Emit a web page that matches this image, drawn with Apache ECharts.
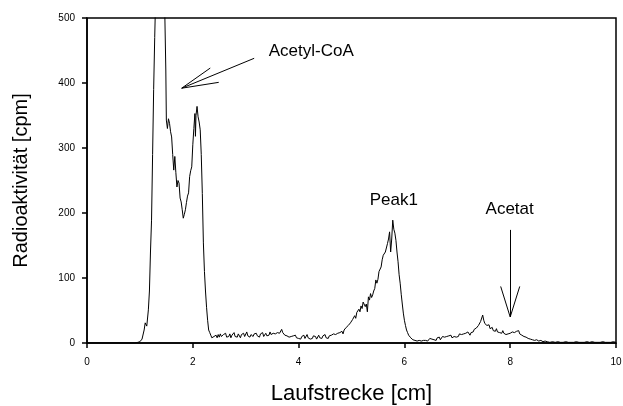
<!DOCTYPE html>
<html>
<head>
<meta charset="utf-8">
<script src="https://cdn.jsdelivr.net/npm/echarts@6/dist/echarts.min.js"></script>
<style>
html,body{margin:0;padding:0;background:#fff;}
#chart{width:623px;height:406px;}
</style>
</head>
<body>
<div id="chart"></div>
<script>
// ---- data: [Laufstrecke cm, Radioaktivität cpm] ----
const baseline = [[0,0],[0.25,0],[0.27,2],[0.29,0],[0.9,0],[0.96,1],[1.0,2],[1.04,6],[1.08,20],[1.1,31],[1.13,26],[1.16,51]];
const acetylCoA = [[1.18,80],[1.2,140],[1.22,189],[1.24,290],[1.26,390],[1.28,470],[1.3,540],[1.33,600],[1.36,630],[1.39,625],[1.42,600],[1.45,560],[1.47,510],[1.49,420],[1.5,343],[1.52,330],[1.54,345],[1.56,338],[1.58,325],[1.6,317],[1.62,290],[1.64,266],[1.66,287],[1.68,262],[1.7,240],[1.72,250],[1.74,246],[1.76,223],[1.78,217],[1.8,205],[1.82,192],[1.84,198],[1.86,205],[1.88,216],[1.9,226],[1.92,231],[1.94,256],[1.96,265],[1.98,271],[2.0,305],[2.02,330],[2.04,353],[2.05,318],[2.06,350],[2.08,364],[2.1,348],[2.12,340],[2.14,328],[2.16,290],[2.18,230],[2.2,154],[2.22,110],[2.24,80],[2.26,55],[2.28,35],[2.3,20],[2.32,16],[2.34,12],[2.36,8]];
const plateau = [[2.38,6],[2.4,10],[2.42,7],[2.44,12],[2.46,8],[2.48,13],[2.5,9],[2.52,14],[2.54,10],[2.56,8],[2.58,13],[2.6,11],[2.62,15],[2.64,9],[2.66,12],[2.68,10],[2.7,14],[2.72,8],[2.74,12],[2.76,11],[2.78,16],[2.8,10],[2.82,13],[2.84,9],[2.86,14],[2.88,12],[2.9,8],[2.92,13],[2.94,11],[2.96,15],[2.98,10],[3.0,12],[3.02,17],[3.04,11],[3.06,14],[3.08,9],[3.1,13],[3.12,16],[3.14,10],[3.16,14],[3.18,12],[3.2,15],[3.22,11],[3.24,13],[3.26,9],[3.28,14],[3.3,12],[3.32,16],[3.34,10],[3.36,13],[3.38,15],[3.4,11],[3.42,14],[3.44,12],[3.46,17],[3.48,13],[3.5,10],[3.52,15],[3.54,12],[3.56,14],[3.58,11],[3.6,16],[3.62,13],[3.64,15],[3.66,18],[3.68,21],[3.7,16],[3.72,14],[3.74,12],[3.76,15],[3.78,11],[3.8,13],[3.82,9],[3.84,12],[3.86,10],[3.88,8],[3.9,11],[3.92,9],[3.94,12],[3.96,8],[3.98,10],[4.0,7],[4.02,9],[4.04,6],[4.06,10],[4.08,8],[4.1,12],[4.12,7],[4.14,9],[4.16,13],[4.18,8],[4.2,10],[4.22,6],[4.24,9],[4.26,7],[4.28,11],[4.3,8],[4.32,10],[4.34,6],[4.36,9],[4.38,12],[4.4,8],[4.42,10],[4.44,7],[4.46,11],[4.48,9],[4.5,13],[4.52,8],[4.54,10],[4.56,7],[4.58,11],[4.6,9],[4.62,12],[4.64,10],[4.66,14],[4.68,11],[4.7,13],[4.72,10],[4.74,15],[4.76,12],[4.78,16],[4.8,13],[4.82,18],[4.84,14],[4.86,20],[4.88,17]];
const peak1 = [[4.9,24],[4.92,21],[4.94,27],[4.96,24],[4.98,31],[5.0,28],[5.02,36],[5.04,33],[5.06,42],[5.08,38],[5.1,47],[5.12,44],[5.14,52],[5.16,48],[5.18,57],[5.2,53],[5.22,63],[5.24,66],[5.26,56],[5.28,60],[5.3,48],[5.32,71],[5.34,66],[5.36,76],[5.38,70],[5.4,74],[5.42,80],[5.44,84],[5.46,97],[5.48,92],[5.5,98],[5.52,110],[5.54,112],[5.56,117],[5.58,128],[5.6,135],[5.62,138],[5.64,140],[5.66,142],[5.68,153],[5.7,160],[5.72,171],[5.74,140],[5.76,160],[5.78,189],[5.8,175],[5.82,169],[5.84,158],[5.86,140],[5.88,125],[5.9,105],[5.92,92],[5.94,75],[5.96,60],[5.98,46],[6.0,35],[6.02,27],[6.04,20],[6.06,16],[6.08,12],[6.1,10],[6.12,8],[6.14,6],[6.16,5],[6.18,6],[6.2,4],[6.22,5],[6.24,3],[6.26,5],[6.28,4],[6.3,6],[6.32,3],[6.34,5],[6.36,4],[6.38,7],[6.4,4],[6.42,6],[6.44,3],[6.46,5],[6.48,7],[6.5,4],[6.52,6],[6.54,8],[6.56,5],[6.58,7],[6.6,4],[6.62,8],[6.64,6],[6.66,9],[6.68,5],[6.7,8],[6.72,10],[6.74,7],[6.76,9],[6.78,6],[6.8,10],[6.82,8],[6.84,11],[6.86,9],[6.88,12],[6.9,8],[6.92,11],[6.94,10],[6.96,13],[6.98,9]];
const acetat = [[7.0,12],[7.02,10],[7.04,14],[7.06,11],[7.08,13],[7.1,10],[7.12,14],[7.14,12],[7.16,15],[7.18,13],[7.2,17],[7.22,14],[7.24,12],[7.26,16],[7.28,18],[7.3,17],[7.32,21],[7.34,19],[7.36,23],[7.38,21],[7.4,27],[7.42,28],[7.44,33],[7.46,30],[7.48,43],[7.5,35],[7.52,30],[7.54,33],[7.56,27],[7.58,25],[7.6,28],[7.62,22],[7.64,20],[7.66,24],[7.68,19],[7.7,21],[7.72,18],[7.74,22],[7.76,17],[7.78,20],[7.8,16],[7.82,18],[7.84,15],[7.86,19],[7.88,15],[7.9,17],[7.92,13],[7.94,16],[7.96,14],[7.98,12],[8.0,15],[8.02,13],[8.04,17],[8.06,14],[8.08,16],[8.1,13],[8.12,18],[8.14,15],[8.16,19],[8.18,14],[8.2,16],[8.22,12],[8.24,14],[8.26,10],[8.28,12],[8.3,9],[8.32,11],[8.34,7],[8.36,8],[8.38,6],[8.4,7],[8.42,5],[8.44,6],[8.46,4],[8.5,5],[8.54,3],[8.58,4],[8.62,2],[8.66,3],[8.7,2]];
const tail = [[8.75,1],[8.8,2],[8.85,1],[8.9,2],[8.95,1],[9.0,1],[9.05,2],[9.1,1],[9.2,1],[9.25,2],[9.3,1],[9.4,1],[9.45,2],[9.5,1],[9.55,2],[9.6,1],[9.7,1],[9.75,2],[9.8,1],[9.9,1],[9.95,2],[10.0,1]];

// ---- annotations (data coordinates) ----
const labelTexts = ['Acetyl-CoA', 'Peak1', 'Acetat'];
const labelAnchors = [[4.24, 448], [5.8, 220], [7.99, 205]];
const arrowLines = [
  [[1.79, 392], [3.16, 438]],
  [[1.79, 392], [2.33, 423]],
  [[1.79, 392], [2.49, 401]],
  [[8.0, 40], [8.0, 174]],
  [[8.0, 40], [7.82, 87]],
  [[8.0, 40], [8.18, 87]]
];

const profile = [].concat(baseline, acetylCoA, plateau, peak1, acetat, tail);
const FONT = '"Liberation Sans", Arial, sans-serif';

const chart = echarts.init(document.getElementById('chart'), null, {renderer: 'canvas'});
chart.setOption({
  animation: false,
  backgroundColor: '#fff',
  grid: {left: 87, right: 7, top: 18, bottom: 63, outerBoundsMode: 'none', containLabel: false, show: true, borderColor: '#000', borderWidth: 1.5, backgroundColor: 'transparent'},
  xAxis: {
    type: 'value', min: 0, max: 10, interval: 2,
    name: 'Laufstrecke [cm]', nameLocation: 'middle', nameGap: 40,
    nameTextStyle: {fontFamily: FONT, fontSize: 22, color: '#000'},
    axisLine: {show: true, lineStyle: {color: '#000', width: 1.5}},
    axisTick: {show: true, inside: false, length: 5, lineStyle: {color: '#000', width: 1.5}},
    axisLabel: {fontFamily: FONT, fontSize: 10, color: '#000', margin: 14},
    splitLine: {show: false}
  },
  yAxis: {
    type: 'value', min: 0, max: 500, interval: 100,
    name: 'Radioaktivität [cpm]', nameLocation: 'middle', nameGap: 56,
    nameTextStyle: {fontFamily: FONT, fontSize: 20, color: '#000'},
    axisLine: {show: true, lineStyle: {color: '#000', width: 1.5}},
    axisTick: {show: true, inside: false, length: 5, lineStyle: {color: '#000', width: 1.5}},
    axisLabel: {fontFamily: FONT, fontSize: 10, color: '#000', margin: 12},
    splitLine: {show: false}
  },
  series: [{
    type: 'line',
    data: profile,
    showSymbol: false,
    symbol: 'none',
    clip: true,
    lineStyle: {color: '#000', width: 1},
    markLine: {
      silent: true,
      symbol: ['none', 'none'],
      label: {show: false},
      lineStyle: {color: '#000', width: 1, type: 'solid'},
      data: arrowLines.map(l => [{coord: l[0]}, {coord: l[1]}])
    },
    markPoint: {
      silent: true,
      symbol: 'circle', symbolSize: 0,
      label: {show: true, position: 'inside', color: '#000', fontFamily: FONT, fontSize: 17},
      data: labelTexts.map((t, i) => ({coord: labelAnchors[i], value: t, label: {formatter: t}}))
    }
  }]
});
</script>
</body>
</html>
